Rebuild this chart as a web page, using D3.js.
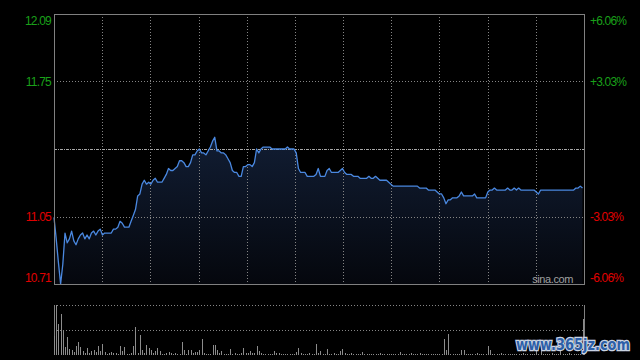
<!DOCTYPE html>
<html>
<head>
<meta charset="utf-8">
<script src="https://cdn.jsdelivr.net/npm/d3@7"></script>
<style>
  body { margin: 0; background: #000; }
  svg { display: block; }
</style>
</head>
<body>
<div id="chart"></div>
<script>
const width = 640;
const height = 360;

// previous close and grid levels (percent from previous close)
const prevClose = 11.40;
const pctLevels = [0.0606, 0.0303, 0, -0.0303, -0.0606];
const priceLabels = ["12.09", "11.75", "", "11.05", "10.71"];
const pctLabels = ["+6.06%", "+3.03%", "", "-3.03%", "-6.06%"];

// one price per minute, 9:30 -> 15:00
const prices = [
    11.05, 10.94, 10.82, 10.71, 10.81, 10.97, 10.92, 10.94, 10.98, 10.93,
    10.91, 10.94, 10.96, 10.97, 10.94, 10.96, 10.94, 10.97, 10.98, 10.96,
    10.98, 10.99, 10.96, 10.97, 10.97, 10.97, 10.97, 10.99, 10.99, 11.00,
    11.03, 11.02, 11.00, 11.00, 11.00, 11.03, 11.06, 11.09, 11.16, 11.17,
    11.22, 11.24, 11.22, 11.23, 11.22, 11.24, 11.25, 11.23, 11.23, 11.23,
    11.25, 11.27, 11.30, 11.29, 11.29, 11.30, 11.31, 11.34, 11.34, 11.33,
    11.31, 11.31, 11.33, 11.37, 11.37, 11.39, 11.40, 11.38, 11.38, 11.37,
    11.39, 11.41, 11.44, 11.46, 11.39, 11.39, 11.38, 11.38, 11.37, 11.35,
    11.33, 11.29, 11.28, 11.28, 11.26, 11.26, 11.31, 11.31, 11.32, 11.32,
    11.31, 11.33, 11.40, 11.38, 11.40, 11.41, 11.41, 11.41, 11.41, 11.40,
    11.40, 11.40, 11.40, 11.40, 11.40, 11.40, 11.41, 11.40, 11.40, 11.40,
    11.38, 11.30, 11.28, 11.28, 11.28, 11.26, 11.26, 11.26, 11.26, 11.27,
    11.30, 11.26, 11.26, 11.26, 11.29, 11.30, 11.28, 11.28, 11.28, 11.28,
    11.29, 11.30, 11.28, 11.27, 11.27, 11.27, 11.26, 11.26, 11.26, 11.25,
    11.25, 11.25, 11.25, 11.26, 11.25, 11.25, 11.26, 11.25, 11.24, 11.24,
    11.24, 11.24, 11.23, 11.22, 11.21, 11.21, 11.21, 11.21, 11.21, 11.21,
    11.21, 11.21, 11.21, 11.21, 11.21, 11.21, 11.20, 11.20, 11.20, 11.20,
    11.19, 11.19, 11.19, 11.19, 11.18, 11.17, 11.17, 11.15, 11.12, 11.14,
    11.14, 11.15, 11.15, 11.15, 11.16, 11.18, 11.16, 11.16, 11.16, 11.16,
    11.16, 11.17, 11.15, 11.15, 11.15, 11.15, 11.15, 11.18, 11.19, 11.19,
    11.20, 11.19, 11.19, 11.19, 11.19, 11.19, 11.20, 11.19, 11.19, 11.20,
    11.19, 11.20, 11.19, 11.19, 11.19, 11.19, 11.19, 11.19, 11.19, 11.18,
    11.17, 11.19, 11.19, 11.19, 11.19, 11.19, 11.19, 11.19, 11.19, 11.19,
    11.19, 11.19, 11.19, 11.19, 11.19, 11.19, 11.19, 11.20, 11.20, 11.21,
    11.20
];

// volume per minute (lots)
const volumes = [
    1900, 5000, 3100, 4100, 2400, 800, 1800, 600, 500, 300,
    900, 1300, 800, 400, 200, 700, 200, 400, 500, 300,
    900, 400, 1100, 300, 100, 200, 300, 200, 200, 100,
    900, 400, 800, 100, 100, 200, 900, 2800, 200, 2000,
    500, 200, 1000, 700, 500, 200, 400, 700, 400, 100,
    100, 200, 300, 200, 100, 200, 100, 100, 1300, 500,
    100, 500, 500, 200, 300, 300, 500, 1600, 200, 100,
    100, 100, 1000, 1000, 500, 200, 400, 100, 100, 100,
    600, 100, 200, 100, 100, 200, 700, 200, 200, 400,
    200, 200, 900, 400, 200, 100, 100, 100, 100, 100,
    400, 200, 200, 100, 100, 100, 100, 100, 100, 100,
    300, 700, 200, 100, 100, 100, 200, 100, 100, 1100,
    200, 400, 100, 100, 600, 100, 100, 200, 100, 100,
    400, 600, 200, 100, 100, 200, 100, 100, 100, 100,
    300, 100, 100, 100, 100, 100, 100, 100, 200, 100,
    100, 100, 100, 100, 100, 100, 100, 300, 100, 100,
    100, 100, 200, 100, 100, 100, 200, 100, 100, 100,
    100, 100, 100, 100, 100, 100, 100, 1600, 500, 2100,
    100, 100, 100, 100, 100, 500, 500, 100, 100, 100,
    100, 100, 200, 100, 100, 100, 100, 900, 500, 100,
    100, 100, 100, 200, 100, 100, 100, 100, 100, 100,
    100, 100, 100, 200, 100, 100, 100, 100, 100, 500,
    100, 700, 100, 100, 100, 100, 200, 100, 100, 100,
    500, 100, 100, 100, 200, 100, 100, 100, 100, 100,
    3600
];

// panel boxes
const main = { left: 54, right: 584, top: 14, bottom: 284 };
const vol = { top: 305, bottom: 355 };
const fontFamily = "'Liberation Sans', Arial, sans-serif";

let svg = d3.select("#chart")
    .append("svg")
    .attr("width", width)
    .attr("height", height)
    .style("background", "#000");

//scales
let xScale = d3.scaleLinear()
    .domain([0, prices.length - 1])
    .range([main.left, main.right - 1.5]);
let yScale = d3.scaleLinear()
    .domain([prevClose * (1 - 0.0606), prevClose * (1 + 0.0606)])
    .range([main.bottom, main.top]);
let vScale = d3.scaleLinear()
    .domain([0, d3.max(volumes)])
    .range([vol.bottom, vol.top]);
let gridX = d3.scaleLinear()
    .domain([0, 11])
    .range([main.left, main.right]);

const crisp = v => Math.round(v) + 0.5;

//gradient for the area under the price line
let grad = svg.append("defs").append("linearGradient")
    .attr("id", "areaFill")
    .attr("x1", 0).attr("y1", 0).attr("x2", 0).attr("y2", 1);
grad.append("stop").attr("offset", "0%").attr("stop-color", "#111d33");
grad.append("stop").attr("offset", "100%").attr("stop-color", "#05070d");

let area = d3.area()
    .x((d, i) => xScale(i))
    .y0(main.bottom)
    .y1(d => yScale(d));

svg.append("path")
    .datum(prices)
    .attr("d", area)
    .attr("fill", "url(#areaFill)");

//vertical grid
svg.selectAll(".vgrid")
    .data(d3.range(1, 11))
    .enter()
    .append("line")
    .attr("class", "vgrid")
    .attr("x1", d => crisp(gridX(d)))
    .attr("x2", d => crisp(gridX(d)))
    .attr("y1", main.top)
    .attr("y2", main.bottom)
    .attr("stroke", "#858585")
    .attr("stroke-dasharray", "1,2");

//horizontal grid, the middle one is the previous close
svg.selectAll(".hgrid")
    .data(pctLevels.slice(1, 4))
    .enter()
    .append("line")
    .attr("class", "hgrid")
    .attr("x1", main.left)
    .attr("x2", main.right)
    .attr("y1", d => crisp(yScale(prevClose * (1 + d))))
    .attr("y2", d => crisp(yScale(prevClose * (1 + d))))
    .attr("stroke", d => d === 0 ? "#a8a8a8" : "#858585")
    .attr("stroke-dasharray", d => d === 0 ? "3,1,1,1" : "1,2");

//price line
let line = d3.line()
    .x((d, i) => xScale(i))
    .y(d => yScale(d));

svg.append("path")
    .datum(prices)
    .attr("d", line)
    .attr("fill", "none")
    .attr("stroke", "#4a88e0")
    .attr("stroke-width", 1.3)
    .attr("stroke-linejoin", "round");

//main frame
svg.append("rect")
    .attr("x", main.left + 0.5)
    .attr("y", main.top + 0.5)
    .attr("width", main.right - main.left)
    .attr("height", main.bottom - main.top)
    .attr("fill", "none")
    .attr("stroke", "#808080");

//axis labels left (price) and right (percent)
pctLevels.forEach((p, i) => {
    if (p === 0) return;
    let y = yScale(prevClose * (1 + p));
    if (i === 0) y += 6.5;
    if (i === pctLevels.length - 1) y -= 6;
    let color = p > 0 ? "#1aa01a" : "#e00000";
    svg.append("text")
        .attr("x", 51)
        .attr("y", y)
        .attr("text-anchor", "end")
        .attr("dominant-baseline", "central")
        .attr("fill", color)
        .attr("font-family", fontFamily)
        .attr("font-size", 12)
        .attr("letter-spacing", "-0.8px")
        .text(priceLabels[i]);
    svg.append("text")
        .attr("x", 590)
        .attr("y", y)
        .attr("text-anchor", "start")
        .attr("dominant-baseline", "central")
        .attr("fill", color)
        .attr("font-family", fontFamily)
        .attr("font-size", 12)
        .attr("letter-spacing", "-0.8px")
        .text(pctLabels[i]);
});

svg.append("text")
    .attr("x", 573)
    .attr("y", 279)
    .attr("text-anchor", "end")
    .attr("dominant-baseline", "central")
    .attr("fill", "#a0a0a0")
    .attr("font-family", fontFamily)
    .attr("font-size", 11)
    .attr("letter-spacing", "-0.4px")
    .text("sina.com");

//volume panel grid
[vol.top, (vol.top + vol.bottom) / 2].forEach(y => {
    svg.append("line")
        .attr("x1", main.left)
        .attr("x2", main.right)
        .attr("y1", crisp(y))
        .attr("y2", crisp(y))
        .attr("stroke", "#858585")
        .attr("stroke-dasharray", "1,2");
});
[main.left, main.right].forEach(x => {
    svg.append("line")
        .attr("x1", x + 0.5)
        .attr("x2", x + 0.5)
        .attr("y1", vol.top)
        .attr("y2", vol.bottom)
        .attr("stroke", "#808080");
});

//volume bars
svg.selectAll(".vbar")
    .data(volumes)
    .enter()
    .append("rect")
    .attr("class", "vbar")
    .attr("x", (d, i) => Math.round(xScale(i)))
    .attr("width", 1)
    .attr("y", d => vScale(d))
    .attr("height", d => vol.bottom - vScale(d))
    .attr("fill", "#8c8c8c");

//watermark
svg.append("text")
    .attr("x", 516)
    .attr("y", 350)
    .attr("textLength", 114)
    .attr("lengthAdjust", "spacingAndGlyphs")
    .attr("fill", "#2d5fa8")
    .attr("stroke", "#c9d3e2")
    .attr("stroke-width", 2.5)
    .attr("paint-order", "stroke")
    .attr("font-family", "'DejaVu Sans', sans-serif")
    .attr("font-weight", "bold")
    .attr("font-size", 15)
    .text("www.365jz.com");
</script>
</body>
</html>
